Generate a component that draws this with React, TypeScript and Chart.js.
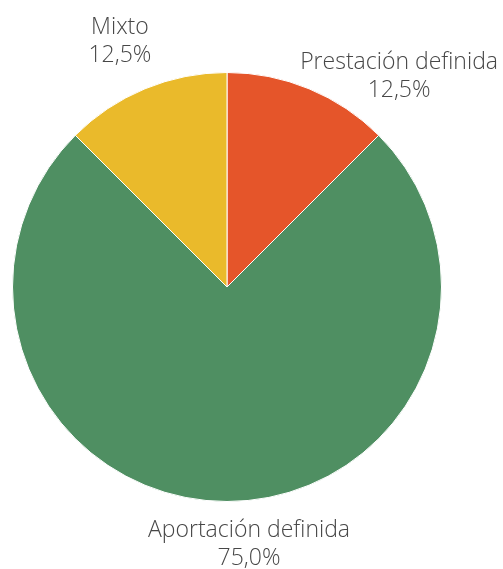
import React, { useEffect, useRef } from "react";
import { Chart, registerables } from "chart.js";

Chart.register(...registerables);

const categories = ["Prestación definida", "Aportación definida", "Mixto"];
const values = [12.5, 75.0, 12.5];
const valueLabels = ["12,5%", "75,0%", "12,5%"];
const colors = ["#E5552A", "#4F8F62", "#EABA2B"];
// label anchor offsets (px) relative to the arc's outer mid-point
const labelOffsets = [
  [90, -20],
  [22, 35],
  [-25, -55],
];

const labelPlugin = {
  id: "outerLabels",
  afterDatasetsDraw(chart: any) {
    const ctx = chart.ctx;
    const meta = chart.getDatasetMeta(0);
    ctx.save();
    ctx.font = '300 23px "Open Sans", sans-serif';
    ctx.fillStyle = "#474747";
    ctx.textAlign = "center";
    ctx.textBaseline = "alphabetic";
    meta.data.forEach((arc: any, i: number) => {
      const { x, y, startAngle, endAngle, outerRadius } = arc.getProps(
        ["x", "y", "startAngle", "endAngle", "outerRadius"],
        true
      );
      const mid = (startAngle + endAngle) / 2;
      const px = x + Math.cos(mid) * outerRadius + labelOffsets[i][0];
      const py = y + Math.sin(mid) * outerRadius + labelOffsets[i][1];
      ctx.fillText(categories[i], px, py);
      ctx.fillText(valueLabels[i], px, py + 28);
    });
    ctx.restore();
  },
};

export default function App() {
  const ref = useRef<HTMLCanvasElement>(null);
  useEffect(() => {
    document.body.style.margin = "0";
    const chart = new Chart(ref.current!, {
      type: "pie",
      data: {
        labels: categories,
        datasets: [
          {
            data: values,
            backgroundColor: colors,
            borderColor: "#ffffff",
            borderWidth: 1,
          },
        ],
      },
      options: {
        responsive: false,
        animation: false,
        layout: { padding: { left: 12, right: 61, top: 72, bottom: 67 } },
        plugins: { legend: { display: false }, tooltip: { enabled: false } },
      },
      plugins: [labelPlugin],
    });
    return () => chart.destroy();
  }, []);
  return (
    <div style={{ position: "absolute", left: 0, top: 0, width: 503, height: 569 }}>
      <canvas ref={ref} width={503} height={569} style={{ width: 503, height: 569 }} />
    </div>
  );
}
